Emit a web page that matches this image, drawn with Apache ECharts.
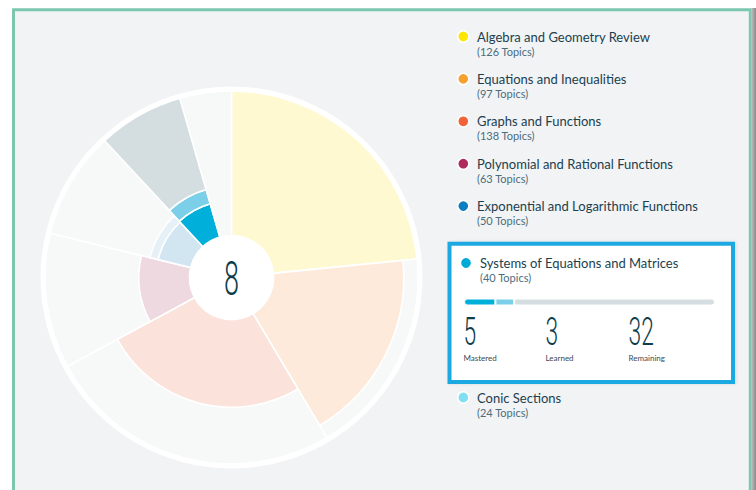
<!DOCTYPE html>
<html>
<head>
<meta charset="utf-8">
<script src="https://cdn.jsdelivr.net/npm/echarts@6/dist/echarts.min.js"></script>
<style>
html,body{margin:0;padding:0;background:#fff;}
#chart{width:756px;height:490px;}
</style>
</head>
<body>
<div id="chart"></div>
<script>
// ---- data ----
const chapters = [
  'Algebra and Geometry Review',
  'Equations and Inequalities',
  'Graphs and Functions',
  'Polynomial and Rational Functions',
  'Exponential and Logarithmic Functions',
  'Systems of Equations and Matrices',
  'Conic Sections'
];
const topics   = [126, 97, 138, 63, 50, 40, 24];
const mastered = [126, 82, 63, 13, 6, 5, 0];
const learned  = [0, 0, 0, 0, 2, 3, 0];
const selected = 5;
const statLabels = ['Mastered', 'Learned', 'Remaining'];

// ---- styles ----
const dotColors = ['#ffe600', '#f8a12e', '#f2633a', '#b02a5b', '#0b7dc1', '#00aad8', '#80dff2'];
const paleMastered = ['#fef9d1', '#fdeadb', '#fbe2da', '#efd9e1', '#d1e6f1', '#00b0da', '#d6f3f9'];
const paleLearned  = ['#fffce6', '#fef4ec', '#fdefea', '#f6eaee', '#e6f1f7', '#7bcfe9', '#eaf8fb'];
const selRemaining = '#d4dee1';
const bgSector = '#f7f8f8';
const textDark = '#1b3f4e';
const textSub = '#4b6d7c';
const CX = 231.5, CY = 277.5, R0 = 42, R = 186.5;

// ---- build sector items ----
const total = topics.reduce((a, b) => a + b, 0);
const items = [];
let acc = 0;
topics.forEach((t, i) => {
  const a0 = acc, a1 = acc + t;
  acc = a1;
  items.push([a0, a1, 0, 1, i, 0]);
  const fm = mastered[i] / t, fl = (mastered[i] + learned[i]) / t;
  if (mastered[i] > 0) items.push([a0, a1, 0, fm, i, 1]);
  if (learned[i] > 0) items.push([a0, a1, fm, fl, i, 2]);
  if (i === selected && fl < 1) items.push([a0, a1, fl, 1, i, 3]);
});

function renderSector(params, api) {
  const cs = params.coordSys;
  const cx = cs.cx, cy = cs.cy;
  const a0 = api.value(0), a1 = api.value(1);
  const f0 = api.value(2), f1 = api.value(3);
  const idx = api.value(4), layer = api.value(5);
  const p0 = api.coord([1, a0]);
  const p1 = api.coord([1, a1]);
  let sa = Math.atan2(p0[1] - cy, p0[0] - cx);
  let ea = Math.atan2(p1[1] - cy, p1[0] - cx);
  if (ea <= sa) ea += Math.PI * 2;
  const rin = cs.r0, rout = cs.r;
  const rad = f => Math.sqrt(rin * rin + f * (rout * rout - rin * rin));
  let fill;
  if (layer === 0) fill = bgSector;
  else if (layer === 1) fill = paleMastered[idx];
  else if (layer === 2) fill = paleLearned[idx];
  else fill = selRemaining;
  return {
    type: 'sector',
    shape: { cx: cx, cy: cy, r0: rad(f0), r: rad(f1), startAngle: sa, endAngle: ea, clockwise: true },
    style: { fill: fill, stroke: '#ffffff', lineWidth: 1.6 }
  };
}

// ---- graphics (frame, legend, box) ----
const graphics = [];
graphics.push({ type: 'rect', z: -10, shape: { x: 13.5, y: 9.8, width: 736.8, height: 500 },
  style: { fill: '#f2f3f5', stroke: '#7cc7ae', lineWidth: 3 } });
graphics.push({ type: 'rect', z: -10, shape: { x: 752, y: 8, width: 4, height: 482 },
  style: { fill: { type: 'linear', x: 0, y: 0, x2: 1, y2: 0, colorStops: [{ offset: 0, color: '#b8b8b8' }, { offset: 1, color: '#8a8a8a' }] } } });
graphics.push({ type: 'circle', z: -5, shape: { cx: CX, cy: CY, r: 191 }, style: { fill: '#ffffff' } });
graphics.push({ type: 'circle', z: 50, shape: { cx: CX, cy: CY, r: R0 + 0.5 }, style: { fill: '#ffffff' } });
graphics.push({ type: 'text', z: 51, x: CX, y: CY + 1, scaleX: 0.55,
  style: { x: 0, y: 0, text: String(mastered[selected] + learned[selected]), fill: '#0d3d4b',
    font: '300 49px Roboto', textAlign: 'center', textVerticalAlign: 'middle' } });

function legendItem(i, dotX, dotY, textX) {
  graphics.push({ type: 'circle', z: 20, shape: { cx: dotX, cy: dotY, r: 5.6 },
    style: { fill: dotColors[i], stroke: '#ffffff', lineWidth: 1.5 } });
  graphics.push({ type: 'text', z: 20, style: { x: textX, y: dotY, text: chapters[i], fill: textDark,
    font: '13px Lato', textVerticalAlign: 'middle' } });
  graphics.push({ type: 'text', z: 20, style: { x: textX, y: dotY + 14.5, text: '(' + topics[i] + ' Topics)', fill: textSub,
    font: '11px Lato', textVerticalAlign: 'middle' } });
}
for (let i = 0; i < chapters.length; i++) {
  if (i < selected) legendItem(i, 463.3, 36.5 + 42.4 * i, 477);
}
// selected box
graphics.push({ type: 'rect', z: 15, shape: { x: 449.5, y: 243.7, width: 283.5, height: 138.3 },
  style: { fill: '#ffffff', stroke: '#1ea8e0', lineWidth: 4, shadowBlur: 3, shadowColor: 'rgba(0,0,0,0.12)', shadowOffsetX: 1 } });
legendItem(selected, 466, 263, 480);
const statVals = [mastered[selected], learned[selected], topics[selected] - mastered[selected] - learned[selected]];
const statX = [463.5, 545.5, 628.5];
statVals.forEach((v, k) => {
  graphics.push({ type: 'text', z: 20, x: statX[k], y: 332, scaleX: 0.6,
    style: { x: 0, y: 0, text: String(v), fill: '#0d3d4b', font: '300 38px Roboto', textVerticalAlign: 'middle' } });
  graphics.push({ type: 'text', z: 20, style: { x: statX[k], y: 357.5, text: statLabels[k], fill: '#3a4a52',
    font: '8px Lato', textVerticalAlign: 'middle' } });
});
for (let i = selected + 1; i < chapters.length; i++) legendItem(i, 463.3, 397.5 + 42.4 * (i - selected - 1), 477);

// ---- progress bar series ----
const barColors = ['#00b0da', '#7bcfe9', '#d4dee1'];
const barSeries = statVals.map((v, k) => ({
  type: 'bar', stack: 'p', xAxisIndex: 0, yAxisIndex: 0, barWidth: 7, silent: true, z: 30,
  data: [v],
  itemStyle: { color: barColors[k], borderColor: '#ffffff', borderWidth: 1,
    borderRadius: k === 0 ? [4, 0, 0, 4] : (k === 2 ? [0, 4, 4, 0] : 0) }
}));

const chart = echarts.init(document.getElementById('chart'), null, { renderer: 'svg' });
chart.setOption({
  animation: false,
  backgroundColor: '#ffffff',
  polar: { center: [CX, CY], radius: [R0, R] },
  angleAxis: { type: 'value', min: 0, max: total, startAngle: 90, clockwise: true, show: false },
  radiusAxis: { type: 'value', min: 0, max: 1, show: false },
  grid: { left: 464, top: 298.5, width: 251, height: 7, containLabel: false },
  xAxis: { type: 'value', min: 0, max: topics[selected], show: false },
  yAxis: { type: 'category', data: [chapters[selected]], show: false },
  graphic: { elements: graphics },
  series: [{
    type: 'custom', coordinateSystem: 'polar', silent: true, z: 2,
    encode: { angle: 0, radius: 2 },
    renderItem: renderSector,
    data: items
  }].concat(barSeries)
});
</script>
</body>
</html>
